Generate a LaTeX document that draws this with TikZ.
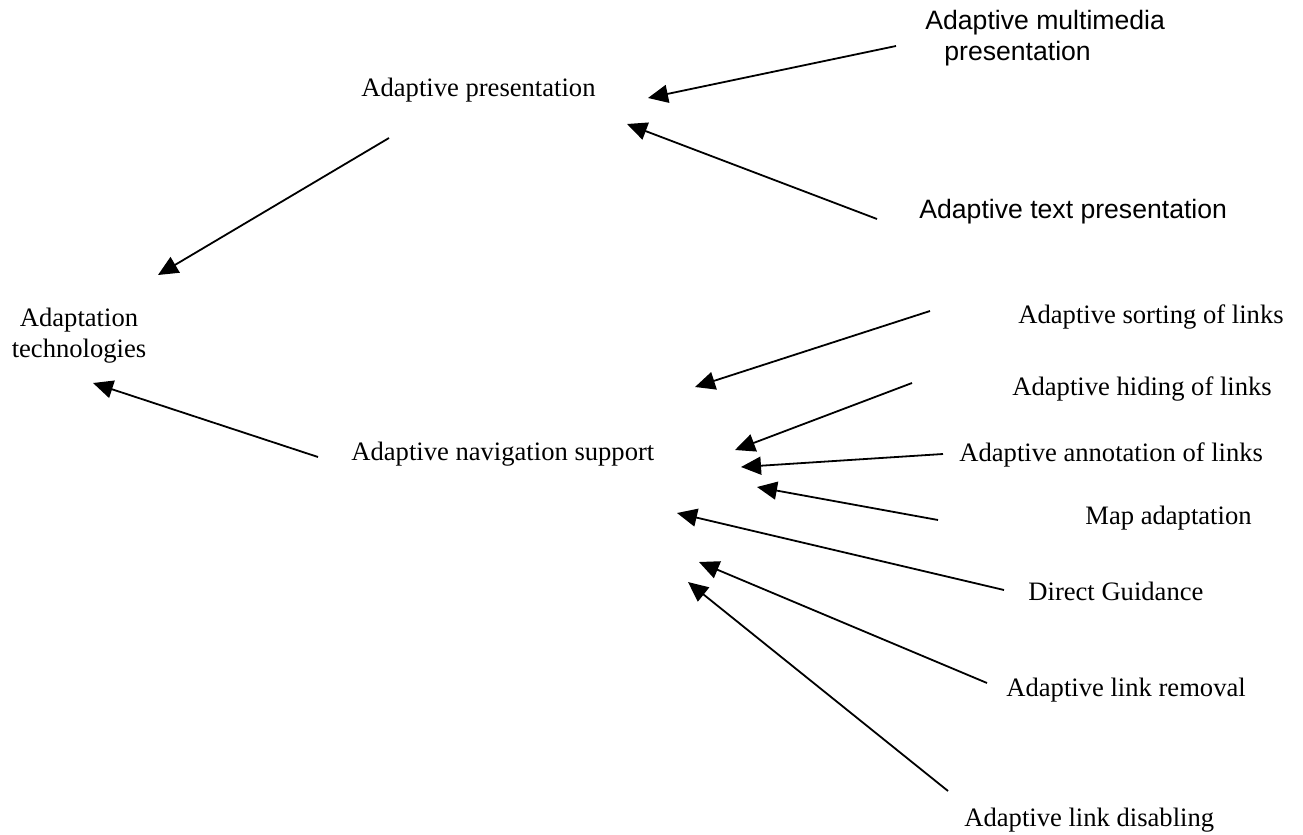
\documentclass[tikz,border=0pt]{standalone}
\usepackage{fontspec}
\setmainfont{Liberation Serif}
\newfontfamily\helv{Liberation Sans}
\usetikzlibrary{arrows.meta}
\begin{document}
\begin{tikzpicture}[x=0.5pt,y=-0.5pt,
  lbl/.style={inner sep=0pt, anchor=base west, font=\fontsize{13.3}{15.5}\selectfont},
  slbl/.style={lbl, font=\helv\fontsize{13.3}{15.5}\selectfont},
  link/.style={line width=0.9pt, -{Triangle[length=10pt,width=9pt]}}]
\useasboundingbox (0,0) rectangle (1303,835);

% labels
\node[slbl] (amp) at (925,30) {\begin{tabular}[t]{@{}l@{}}Adaptive multimedia\\\hspace*{9.5pt}presentation\end{tabular}};
\node[slbl] (atp) at (919,218) {Adaptive text presentation};
\node[lbl] (ap) at (361,97) {Adaptive presentation};
\node[lbl, anchor=base] (at) at (79,326) {\begin{tabular}[t]{@{}c@{}}Adaptation\\technologies\end{tabular}};
\node[lbl] (ans) at (351,460) {Adaptive navigation support};
\node[lbl] (sort) at (1018,323) {Adaptive sorting of links};
\node[lbl] (hide) at (1012,395) {Adaptive hiding of links};
\node[lbl] (annot) at (959,461) {Adaptive annotation of links};
\node[lbl] (map) at (1085,524) {Map adaptation};
\node[lbl] (dg) at (1028,600) {Direct Guidance};
\node[lbl] (rem) at (1006,696) {Adaptive link removal};
\node[lbl] (dis) at (964,826) {Adaptive link disabling};

% arrow end points
\coordinate (amp-s) at (896,46);   \coordinate (amp-e) at (648,98);
\coordinate (atp-s) at (877,219);  \coordinate (atp-e) at (627,124);
\coordinate (ap-s) at (389,138);   \coordinate (ap-e) at (158,275);
\coordinate (ans-s) at (318,457);  \coordinate (ans-e) at (93,383);
\coordinate (sort-s) at (930,311); \coordinate (sort-e) at (695,387);
\coordinate (hide-s) at (912,383); \coordinate (hide-e) at (735,450);
\coordinate (annot-s) at (943,454);\coordinate (annot-e) at (741,467);
\coordinate (map-s) at (938,520);  \coordinate (map-e) at (757,487);
\coordinate (dg-s) at (1004,590);  \coordinate (dg-e) at (677,513);
\coordinate (rem-s) at (987,683);  \coordinate (rem-e) at (699,562);
\coordinate (dis-s) at (948,791);  \coordinate (dis-e) at (688,582);

% arrows
\foreach \k in {amp,atp,ap,ans,sort,hide,annot,map,dg,rem,dis}
  \draw[link] (\k-s) -- (\k-e);
\end{tikzpicture}
\end{document}
